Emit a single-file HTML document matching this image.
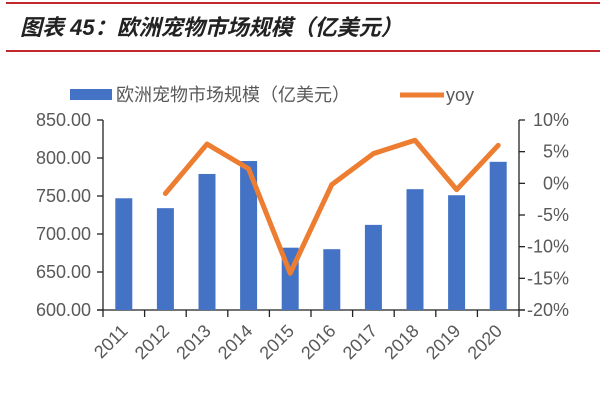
<!DOCTYPE html>
<html><head><meta charset="utf-8"><style>
body{margin:0;background:#fff;}
svg text{font-family:"Liberation Sans","Noto Sans CJK SC",sans-serif;}
</style></head><body>
<svg width="600" height="400" viewBox="0 0 600 400" xmlns="http://www.w3.org/2000/svg">
<line x1="6" y1="3" x2="600" y2="3" stroke="#c0282e" stroke-width="2"/>
<line x1="6" y1="51" x2="600" y2="51" stroke="#c0282e" stroke-width="2"/>
<text x="20" y="35" font-size="22" font-weight="bold" font-style="italic" fill="#222" style="font-family:'Liberation Sans','Noto Sans CJK SC',sans-serif">图表 45：欧洲宠物市场规模（亿美元）</text>
<rect x="70" y="89" width="42" height="11" fill="#4472c4"/>
<text x="116" y="101" font-size="18" fill="#595959">欧洲宠物市场规模（亿美元）</text>
<line x1="400" y1="95" x2="444" y2="95" stroke="#ed7d31" stroke-width="5"/>
<text x="446" y="101" font-size="18" fill="#595959">yoy</text>
<g id="axes"></g><g id="bars"></g><g id="line"></g>
</svg>
<script>
const years=["2011","2012","2013","2014","2015","2016","2017","2018","2019","2020"];
const marketSize=[747,734,779,796,682,680,712,759,751,795];
const yoy=[null,-1.6,6.2,2.3,-14.2,-0.2,4.7,6.8,-1.0,6.0];
const leftTicks=[600,650,700,750,800,850];
const rightTicks=[-20,-15,-10,-5,0,5,10];
const NS="http://www.w3.org/2000/svg";
const X0=103,X1=519,Y0=310,Y1=120;
const cw=(X1-X0)/years.length;
const xC=i=>X0+cw*(i+0.5);
const yL=v=>Y0-(v-600)/250*(Y0-Y1);
const yR=v=>Y0-(v+20)/30*(Y0-Y1);
function mk(t,a,p){const e=document.createElementNS(NS,t);for(const k in a)e.setAttribute(k,a[k]);p.appendChild(e);return e;}
const ax=document.getElementById('axes'),bg=document.getElementById('bars'),lg=document.getElementById('line');
let e;
e=mk('line',{x1:X0,y1:Y1,x2:X0,y2:Y0,stroke:'#222','stroke-width':1.3},ax);


e=mk('line',{x1:X1,y1:Y1,x2:X1,y2:Y0,stroke:'#222','stroke-width':1.3},ax);


e=mk('line',{x1:X0-6,y1:Y0,x2:X1+6,y2:Y0,stroke:'#222','stroke-width':1.3},ax);


leftTicks.forEach(v=>{
 mk('line',{x1:X0-6,y1:yL(v),x2:X0,y2:yL(v),stroke:'#222','stroke-width':1.3},ax);
 e=mk('text',{x:X0-12,y:yL(v)+6,'font-size':18,fill:'#595959','text-anchor':'end'},ax);
 e.textContent=v.toFixed(2);
 
 
});
rightTicks.forEach(v=>{
 mk('line',{x1:X1,y1:yR(v),x2:X1+6,y2:yR(v),stroke:'#222','stroke-width':1.3},ax);
 e=mk('text',{x:X1+50,y:yR(v)+6,'font-size':18,fill:'#595959','text-anchor':'end'},ax);
 e.textContent=v+'%';
 
 
});
for(let i=0;i<=years.length;i++){mk('line',{x1:X0+cw*i,y1:Y0,x2:X0+cw*i,y2:Y0+7,stroke:'#222','stroke-width':1.3},ax);}
years.forEach((y,i)=>{
 const cx=xC(i);
 e=mk('text',{x:cx+5,y:Y0+22,'font-size':18,fill:'#595959','text-anchor':'end',transform:`rotate(-45 ${cx+5} ${Y0+22})`},ax);
 e.textContent=y;
 
 
 e=mk('rect',{x:cx-8.5,y:yL(marketSize[i]),width:17,height:Y0-yL(marketSize[i]),fill:'#4472c4'},bg);
 
 
});
const pts=[];yoy.forEach((v,i)=>{if(v!==null)pts.push(xC(i)+','+yR(v));});
e=mk('polyline',{points:pts.join(' '),fill:'none',stroke:'#ed7d31','stroke-width':5,'stroke-linejoin':'round','stroke-linecap':'round'},lg);


</script>
</body></html>
